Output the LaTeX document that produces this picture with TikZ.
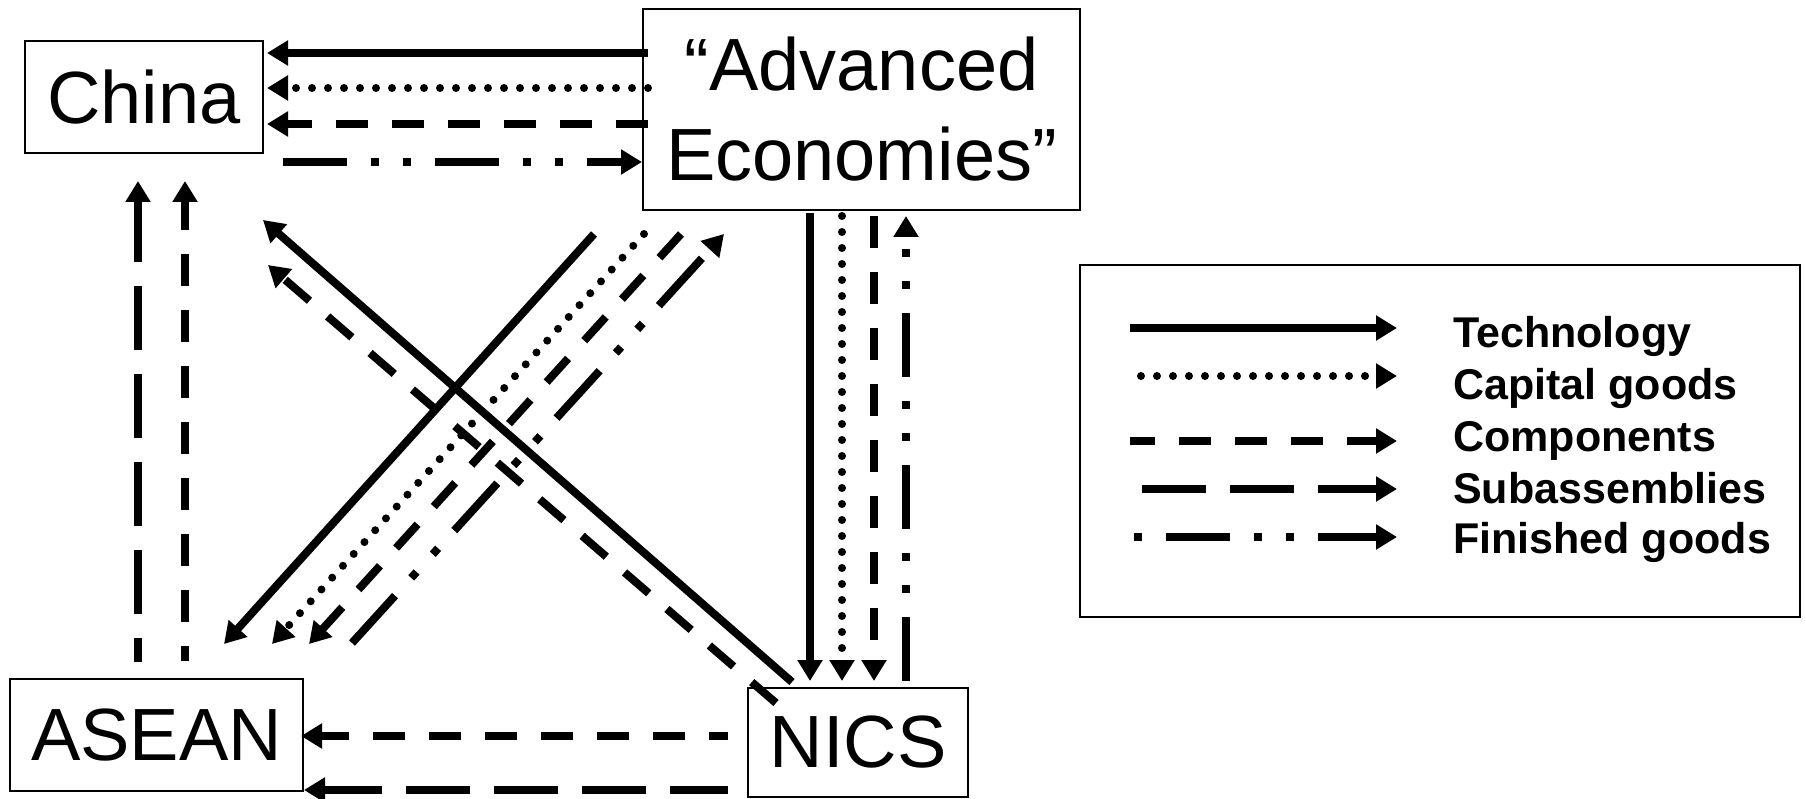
\documentclass[tikz,border=0pt]{standalone}
\usepackage{fontspec}
\setmainfont{Liberation Sans}
\usetikzlibrary{arrows.meta,calc}

\tikzset{
  region/.style={draw, line width=2pt, inner sep=0pt, align=center,
    font=\fontsize{74}{90}\selectfont},
  flow/.style={line width=8pt, -{Triangle[length=21pt,width=24pt]}},
  tech/.style={flow},
  capital/.style={flow, line cap=round, dash pattern=on 0pt off 16pt},
  comp/.style={flow, dash pattern=on 32pt off 24pt},
  subasm/.style={flow, dash pattern=on 64pt off 24pt},
  finished/.style={flow, dash pattern=on 64pt off 24pt on 8pt off 24pt on 8pt off 24pt},
  key/.style={anchor=base west, inner sep=0pt, font=\bfseries\fontsize{43}{50}\selectfont},
}

\begin{document}
\begin{tikzpicture}[x=1pt,y=-1pt]
\useasboundingbox (0,0) rectangle (1806,799);

% regions
\node[region, minimum width=238pt, minimum height=112pt] (china) at (144,97) {China};
\node[region, minimum width=437pt, minimum height=201pt] (adv) at (861.5,109.5) {“Advanced\\Economies”};
\node[region, minimum width=293pt, minimum height=112pt] (asean) at (156.5,735) {ASEAN};
\node[region, minimum width=220pt, minimum height=109pt] (nics) at (858,742.5) {NICS};

% Advanced economies <-> China
\draw[tech]     ($(adv.west)+(6,-56.5)$) -- ($(china.east)+(3,-44)$);
\draw[capital]  ($(adv.west)+(6,-21.5)$) -- ($(china.east)+(3,-9)$);
\draw[comp]     ($(adv.west)+(6,14.5)$)  -- ($(china.east)+(3,27)$);
\draw[finished] ($(china.east)+(19,65)$) -- ($(adv.west)+(0,52.5)$);

% ASEAN -> China
\draw[subasm, dash phase=40pt] ($(asean.north)+(-18.5,-16)$) -- ($(china.south)+(-6,27)$);
\draw[comp, dash phase=17pt]   ($(asean.north)+(28.5,-17)$)  -- ($(china.south)+(41,27)$);

% Advanced economies <-> ASEAN
\draw[tech]     ($(adv.south west)+(-48,23)$) -- ($(asean.north east)+(-80,-34)$);
\draw[capital]  ($(adv.south west)+(2,23)$)   -- ($(asean.north east)+(-32,-34)$);
\draw[comp]     ($(adv.south west)+(39,23)$)  -- ($(asean.north east)+(5,-34)$);
\draw[finished] ($(asean.north east)+(48,-35)$) -- ($(adv.south west)+(82,23)$);

% NICS -> China
\draw[tech] ($(nics.north west)+(45,-5)$) -- ($(china.south)+(119,66)$);
\draw[comp] ($(nics.north west)+(29,16)$) -- ($(china.south)+(124,111)$);

% Advanced economies <-> NICS
\draw[tech]     ($(adv.south)+(-51.5,2)$) -- ($(nics.north)+(-48,-6)$);
\draw[capital]  ($(adv.south)+(-19.5,5)$) -- ($(nics.north)+(-16,-6)$);
\draw[comp]     ($(adv.south)+(12.5,5)$)  -- ($(nics.north)+(16,-6)$);
\draw[finished] ($(nics.north)+(48,-6)$)  -- ($(adv.south)+(44.5,5)$);

% NICS -> ASEAN
\draw[comp, dash phase=13pt]  ($(nics.west)+(-19,-6.5)$) -- ($(asean.east)+(-3,1)$);
\draw[subasm, dash phase=6pt] ($(nics.west)+(-19,47.5)$) -- ($(asean.east)+(0,55)$);

% legend
\node[draw, line width=2pt, minimum width=720pt, minimum height=352pt] (legend) at (1440,441) {};
\node[key] (ktech) at (1453,348) {Technology};
\node[key] (kcap)  at (1453,399) {Capital goods};
\node[key] (kcomp) at (1453,451) {Components};
\node[key] (ksub)  at (1453,503) {Subassemblies};
\node[key] (kfin)  at (1453,553) {Finished goods};

\coordinate (t0) at (1130,328); \coordinate (t1) at (1397,328);
\coordinate (c0) at (1141,376); \coordinate (c1) at (1397,376);
\coordinate (m0) at (1130,441); \coordinate (m1) at (1397,441);
\coordinate (s0) at (1142,489); \coordinate (s1) at (1397,489);
\coordinate (f0) at (1134,537); \coordinate (f1) at (1397,537);
\draw[tech] (t0) -- (t1);
\draw[capital] (c0) -- (c1);
\draw[comp, dash phase=7pt] (m0) -- (m1);
\draw[subasm] (s0) -- (s1);
\draw[finished, dash phase=120pt] (f0) -- (f1);
\end{tikzpicture}
\end{document}
